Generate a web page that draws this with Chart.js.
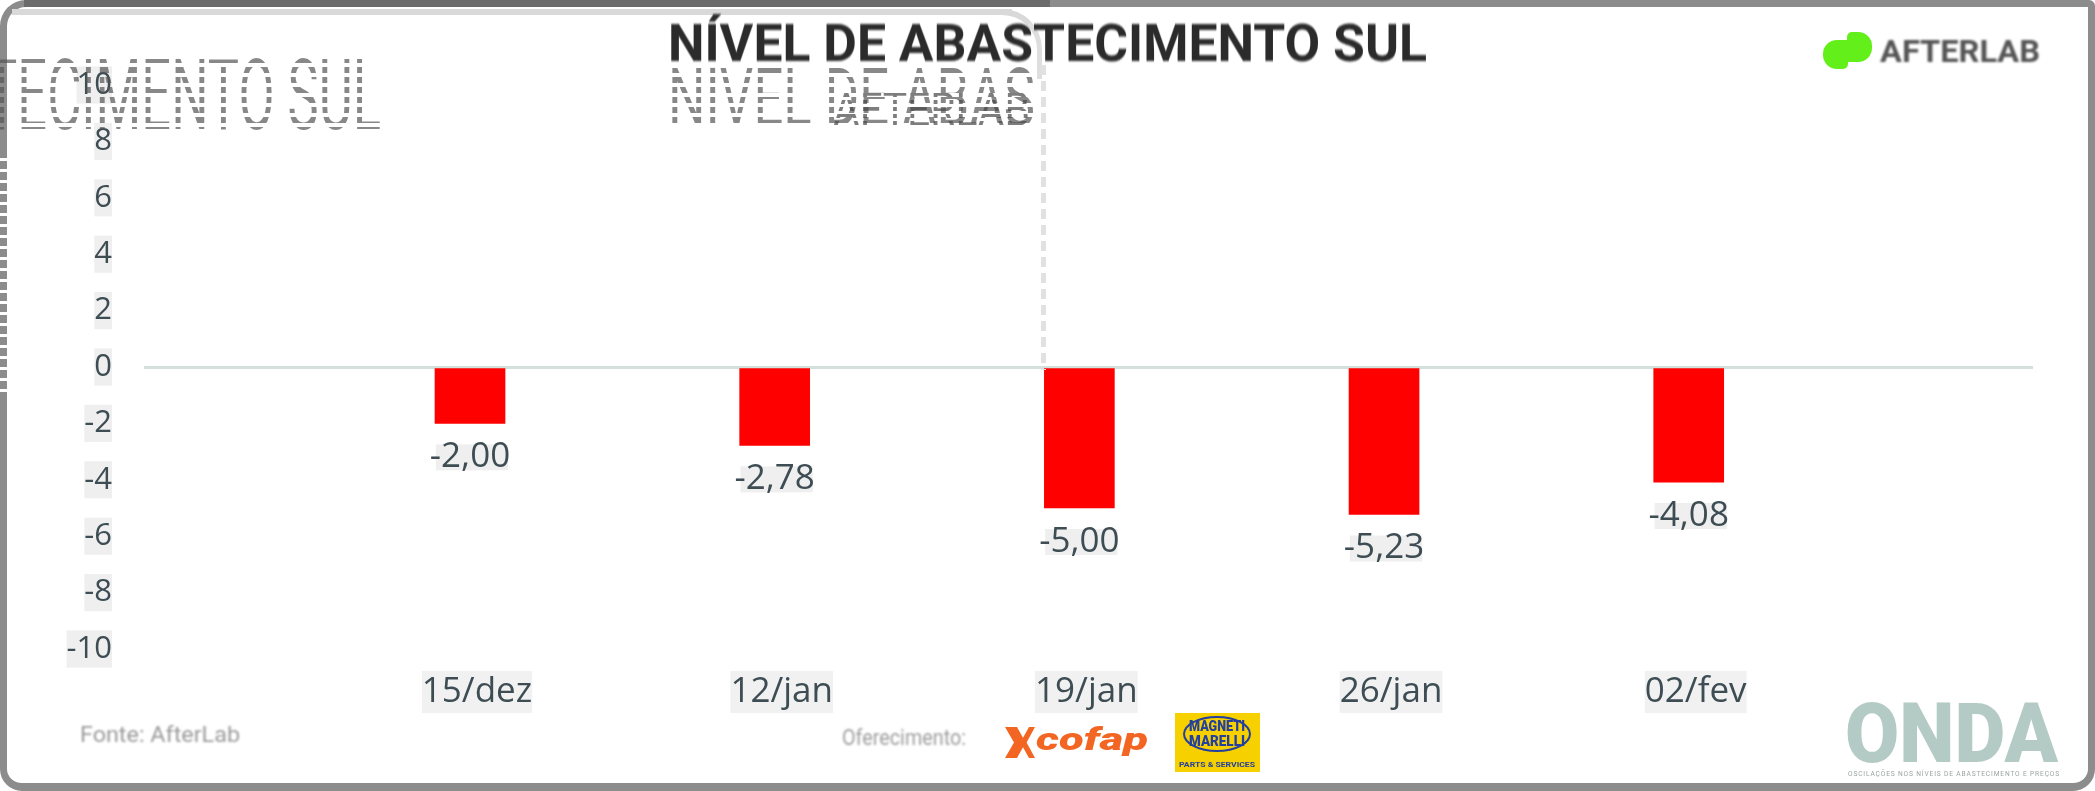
<!DOCTYPE html>
<html>
<head>
<meta charset="utf-8">
<script src="https://cdn.jsdelivr.net/npm/chart.js@4.4.1/dist/chart.umd.min.js"></script>
<style>
html,body{margin:0;padding:0;background:#fff;}
#wrap{position:relative;width:2095px;height:791px;overflow:hidden;background:#fff;}
#c{position:absolute;left:0;top:0;}
.abs{position:absolute;white-space:nowrap;line-height:1;pointer-events:none;}
.fit{transform-origin:0 0;}
.ghost{color:transparent;font-family:Roboto,"Liberation Sans",sans-serif;
  background:repeating-linear-gradient(to bottom,rgba(85,85,85,.7) 0 6px,rgba(255,255,255,0) 6px 10px);
  -webkit-background-clip:text;background-clip:text;}
</style>
</head>
<body>
<div id="wrap">
  <canvas id="c" width="2095" height="791"></canvas>

  <!-- frame -->
  <div class="abs" style="left:0;top:0;width:2095px;height:791px;box-sizing:border-box;border:7px solid #8c8c8c;border-bottom-width:8px;border-radius:26px 6px 22px 22px;"></div>
  <div class="abs" style="left:24px;top:0;width:1026px;height:7px;background:#6b6b6b;"></div>
  <div class="abs" style="left:0;top:150px;width:7px;height:242px;background:repeating-linear-gradient(to bottom,#8c8c8c 0 8px,#ffffff 8px 11px);"></div>
  <div class="abs" style="left:12px;top:9px;width:1000px;height:6px;background:#d9d9d9;"></div>
  <div class="abs" style="left:990px;top:9px;width:52px;height:70px;box-sizing:border-box;border-top:6px solid #d9d9d9;border-right:5px solid #dedede;border-top-right-radius:40px;"></div>
  <div class="abs" style="left:1041px;top:65px;width:5px;height:305px;background:repeating-linear-gradient(to bottom,#e1e1e1 0 10px,rgba(255,255,255,0) 10px 16px);"></div>

  <!-- ghost texts -->
  <div class="abs ghost fit" data-w="395" style="left:-14px;top:47px;font-size:98px;">TECIMENTO SUL</div>
  <div class="abs ghost fit" data-w="367" style="left:668px;top:57px;font-size:82px;">NIVEL DE ABAS</div>
  <div class="abs ghost fit" data-w="197" style="left:833px;top:86px;font-size:48px;background:repeating-linear-gradient(to bottom,rgba(70,70,70,.7) 0 4px,rgba(255,255,255,0) 4px 7px);-webkit-background-clip:text;background-clip:text;">AFTERLAB</div>

  <!-- title -->
  <div class="abs fit" data-w="759" style="left:668px;top:18px;font-family:Roboto,'Liberation Sans',sans-serif;font-weight:700;font-size:52px;color:#2b2b2b;filter:blur(0.8px);">NÍVEL DE ABASTECIMENTO SUL</div>

  <!-- AfterLab logo -->
  <div class="abs" style="left:1823px;top:40px;width:25px;height:29px;background:#63f01a;border-radius:14px 0 5px 14px;"></div>
  <div class="abs" style="left:1847px;top:32px;width:25px;height:30px;background:#63f01a;border-radius:5px 14px 14px 0;"></div>
  <div class="abs fit" data-w="160" style="left:1880px;top:36px;font-family:Roboto,sans-serif;font-weight:700;font-size:31px;color:#555;filter:blur(1px);">AFTERLAB</div>

  <!-- footer -->
  <div class="abs fit" data-w="160" style="left:80px;top:724px;font-family:Roboto,sans-serif;font-size:22px;color:#9a9a9a;filter:blur(1.2px);">Fonte: AfterLab</div>
  <div class="abs fit" data-w="124" style="left:842px;top:727px;font-family:Roboto,sans-serif;font-size:22px;color:#9e9e9e;filter:blur(1.2px);">Oferecimento:</div>

  <!-- cofap -->
  <div class="abs" style="left:1005px;top:727px;width:30px;height:31px;background:#f26522;clip-path:polygon(0 0,40% 0,60% 35%,80% 0,100% 0,72% 50%,100% 100%,80% 100%,60% 65%,40% 100%,0 100%,30% 50%);"></div>
  <div class="abs fit" data-w="112" style="left:1036px;top:724px;font-family:Roboto,sans-serif;font-weight:900;font-style:italic;font-size:31px;color:#f26522;">cofap</div>

  <!-- Magneti Marelli -->
  <div class="abs" style="left:1175px;top:713px;width:85px;height:59px;background:#f7d000;"></div>
  <div class="abs" style="left:1183px;top:716px;width:68px;height:36px;box-sizing:border-box;border:2px solid #2340a0;border-radius:50%;"></div>
  <div class="abs fit" data-w="56" style="left:1189px;top:719px;font-family:Roboto,sans-serif;font-weight:900;font-size:15px;color:#2340a0;">MAGNETI</div>
  <div class="abs fit" data-w="56" style="left:1189px;top:734px;font-family:Roboto,sans-serif;font-weight:900;font-size:15px;color:#2340a0;">MARELLI</div>
  <div class="abs fit" data-w="76" style="left:1179px;top:761px;font-family:Roboto,sans-serif;font-weight:700;font-size:8px;color:#2340a0;">PARTS &amp; SERVICES</div>

  <!-- ONDA -->
  <div class="abs fit" data-w="213" style="left:1845px;top:692px;font-family:Roboto,sans-serif;font-weight:900;font-size:84px;color:#b3cbc4;">ONDA</div>
  <div class="abs fit" data-w="212" style="left:1848px;top:770px;font-family:Roboto,sans-serif;font-size:8px;letter-spacing:1px;color:#9aa5a2;">OSCILAÇÕES NOS NÍVEIS DE ABASTECIMENTO E PREÇOS</div>
</div>

<script>
// ---- data ----
const categories = ['15/dez', '12/jan', '19/jan', '26/jan', '02/fev'];
const values = [-2.00, -2.78, -5.00, -5.23, -4.08];
const yTicks = [-10, -8, -6, -4, -2, 0, 2, 4, 6, 8, 10];

const textColor = '#3d4d53';

function fmt(v) {
  return v.toFixed(2).replace('.', ',');
}

// fit overlay texts to their widths
document.querySelectorAll('[data-w]').forEach(el => {
  const w = el.getBoundingClientRect().width;
  if (w > 0) el.style.transform = 'scaleX(' + (parseFloat(el.dataset.w) / w) + ')';
});

const valueLabels = {
  id: 'valueLabels',
  afterDatasetsDraw(chart) {
    const ctx = chart.ctx;
    const meta = chart.getDatasetMeta(0);
    ctx.save();
    ctx.font = '35px "Open Sans"';
    ctx.textAlign = 'center';
    ctx.textBaseline = 'middle';
    meta.data.forEach((bar, i) => {
      const txt = fmt(values[i]);
      const y = bar.y + 34;
      const w = ctx.measureText(txt).width;
      ctx.fillStyle = '#efefef';
      ctx.fillRect(bar.x - w / 2 + 6, y - 13, w - 8, 26);
      ctx.fillStyle = textColor;
      ctx.fillText(txt, bar.x, y);
    });
    ctx.restore();
  }
};

new Chart(document.getElementById('c'), {
  type: 'bar',
  data: {
    datasets: [{
      data: categories.map((c, i) => ({ x: i, y: values[i] })),
      backgroundColor: '#ff0000',
      borderWidth: 0,
      barThickness: 70
    }]
  },
  options: {
    responsive: false,
    animation: false,
    devicePixelRatio: 1,
    layout: { padding: { left: 0, right: 62, top: 85, bottom: 0 } },
    plugins: { legend: { display: false }, tooltip: { enabled: false }, title: { display: false } },
    scales: {
      x: {
        type: 'linear',
        offset: false,
        min: -1.07,
        max: 5.13,
        afterBuildTicks: s => { s.ticks = categories.map((c, i) => ({ value: i })); },
        afterFit: s => { s.height = 142; },
        grid: { display: false, drawTicks: false, offset: false },
        border: { display: false },
        ticks: {
          autoSkip: false,
          maxRotation: 0,
          padding: 22,
          labelOffset: 7,
          color: textColor,
          font: { family: '"Open Sans"', size: 35 },
          callback: v => categories[v] !== undefined ? categories[v] : '',
          showLabelBackdrop: true,
          backdropColor: '#f1f1f1',
          backdropPadding: 0
        }
      },
      y: {
        min: -10,
        max: 10,
        afterBuildTicks: s => { s.ticks = yTicks.map(v => ({ value: v })); },
        afterFit: s => { s.width = 144; },
        grid: {
          drawTicks: false,
          lineWidth: 3,
          color: c => (c.tick && c.tick.value === 0) ? '#d4e0dc' : 'rgba(0,0,0,0)'
        },
        border: { display: false },
        ticks: {
          padding: 32,
          color: textColor,
          font: { family: '"Open Sans"', size: 31 },
          callback: v => String(v),
          showLabelBackdrop: true,
          backdropColor: '#efefef',
          backdropPadding: 0
        }
      }
    }
  },
  plugins: [valueLabels]
});
</script>
</body>
</html>
